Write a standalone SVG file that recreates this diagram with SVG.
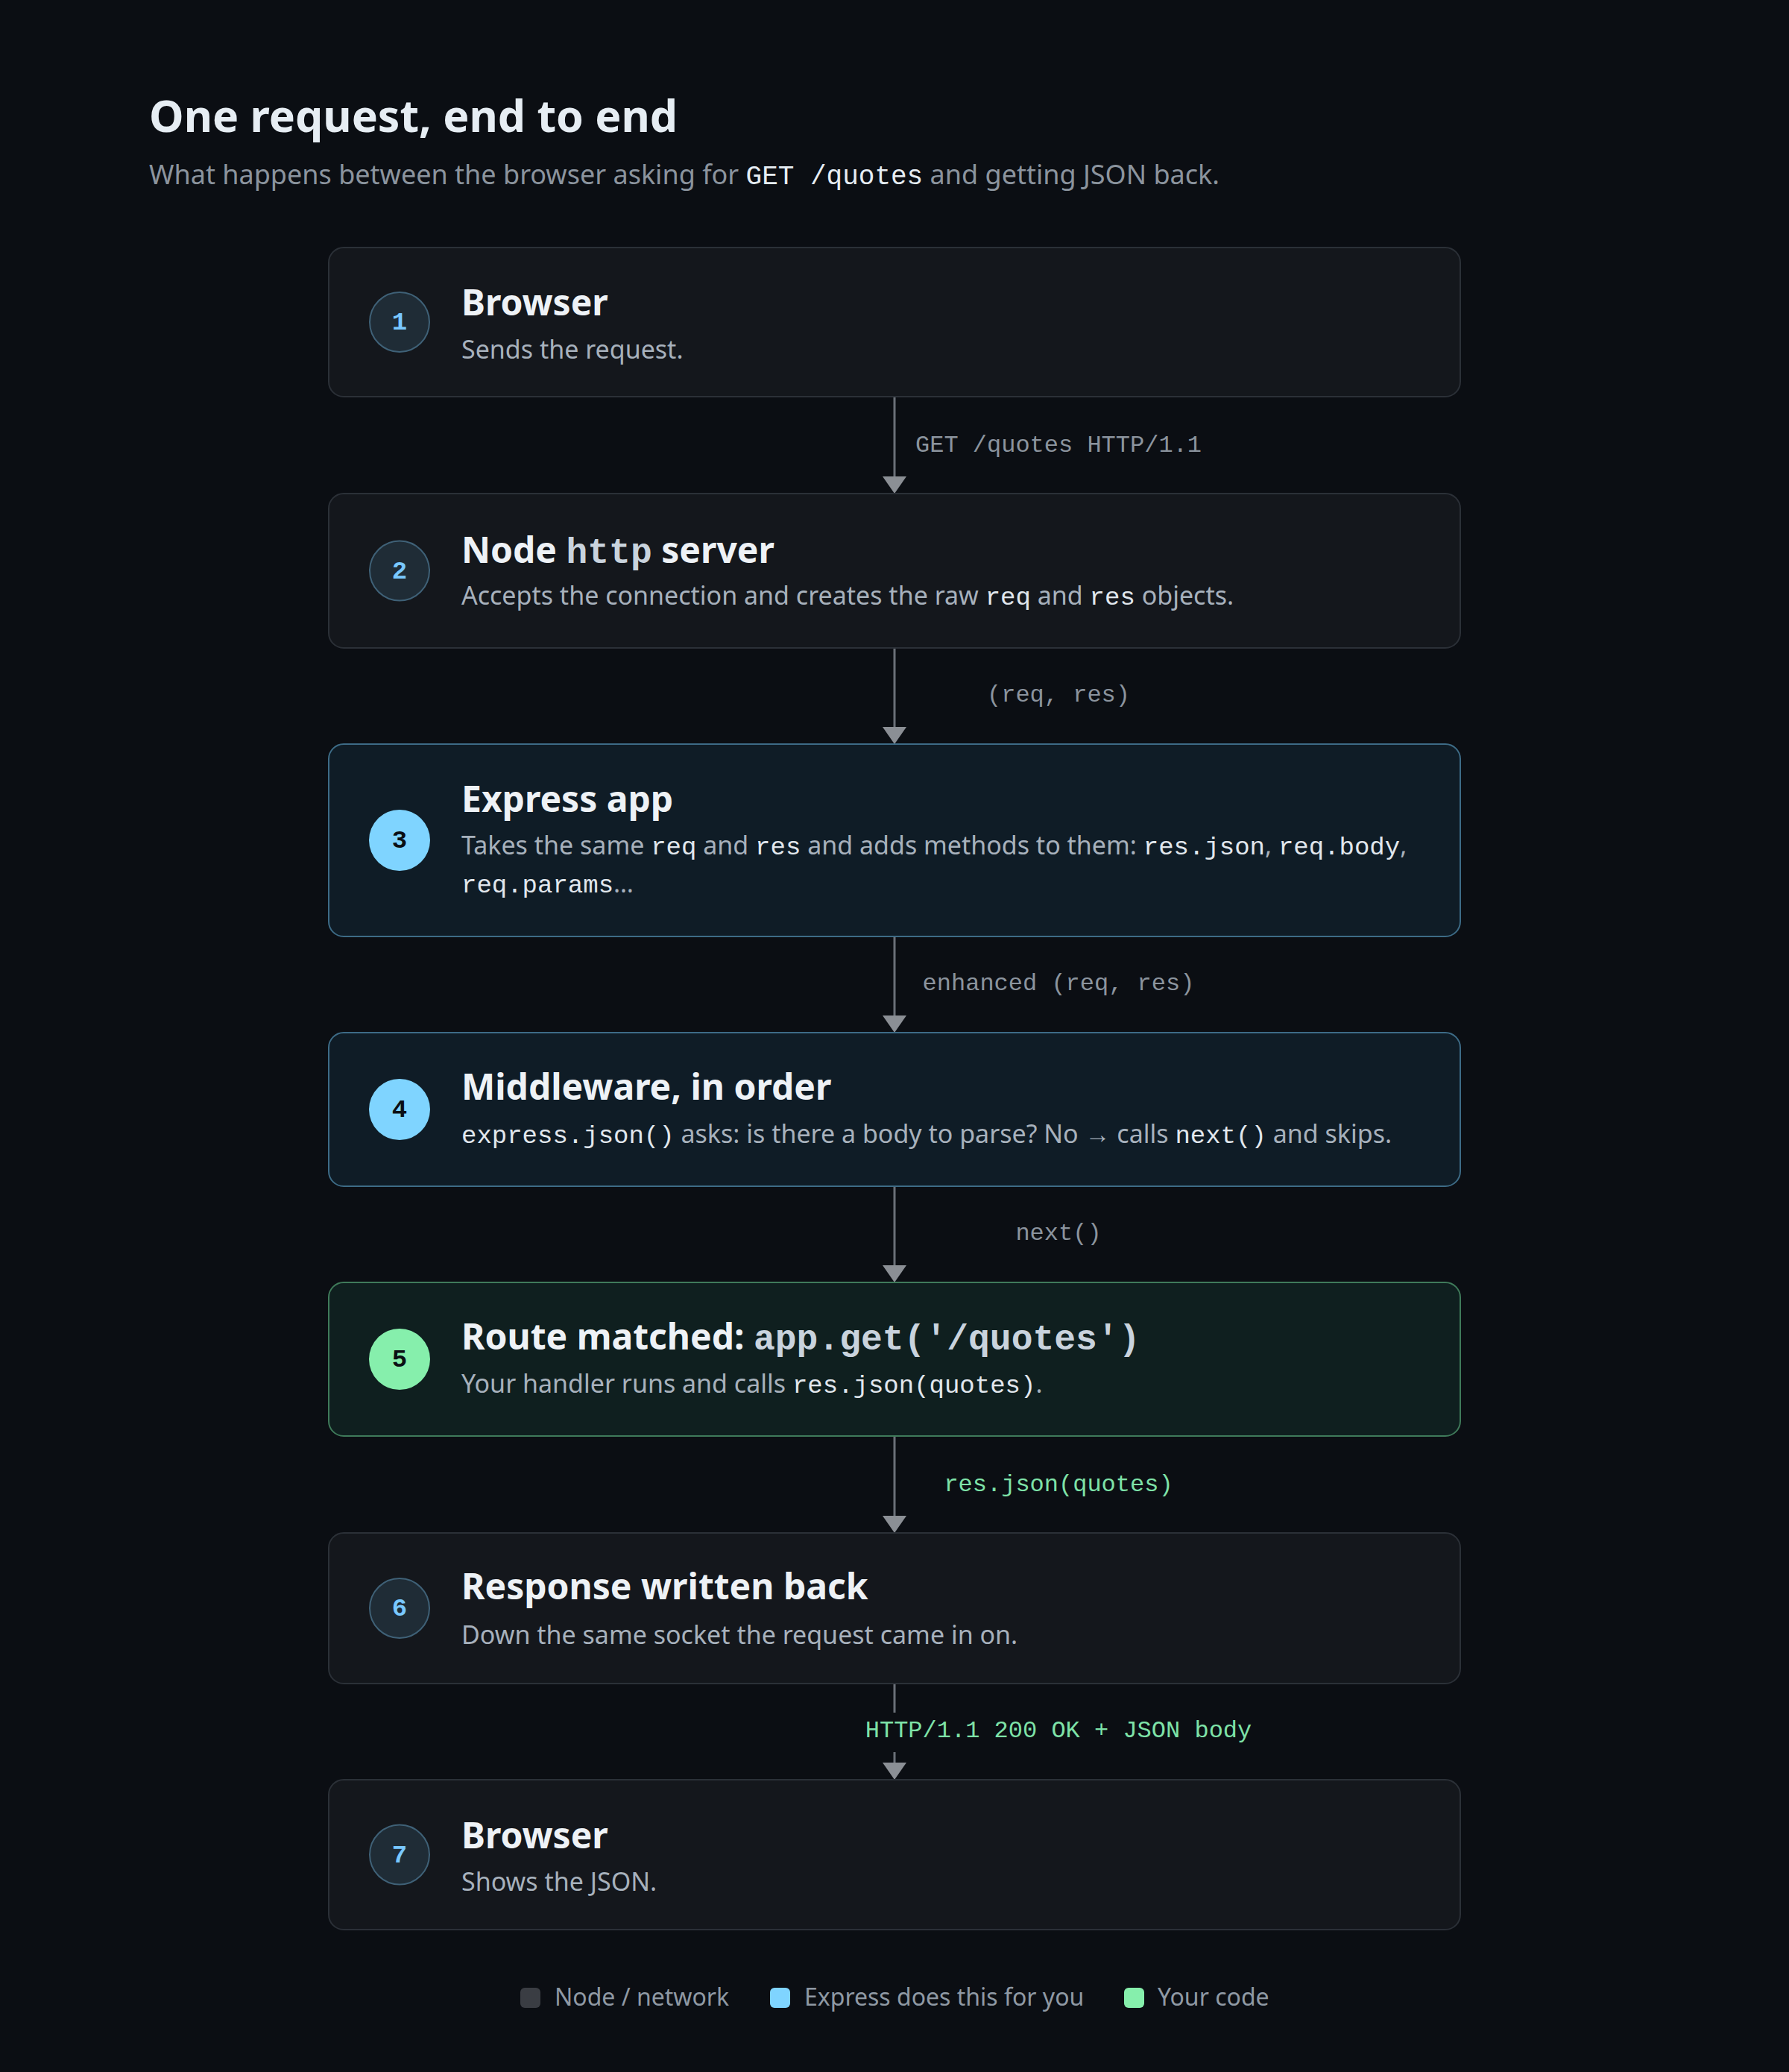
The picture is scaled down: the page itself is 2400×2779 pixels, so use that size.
<svg xmlns="http://www.w3.org/2000/svg" width="2400" height="2779" viewBox="0 0 2400 2779">
<defs>
<style>
.h1{font-family:"Noto Sans","Open Sans",sans-serif;font-weight:700;font-size:59px;fill:#e6edf3}
.sub{font-family:"Noto Sans","Open Sans",sans-serif;font-size:36px;fill:#8b949e}
.sub .code{font-family:"Liberation Mono","DejaVu Sans Mono",monospace;font-size:36px;fill:#e6edf3}
.box-gray{fill:#14171c;stroke:#2b3037;stroke-width:2}
.box-blue{fill:#0f1c26;stroke:#3d6b86;stroke-width:2}
.box-green{fill:#0f1f1f;stroke:#3f7a5a;stroke-width:2}
.num-bg-gray{fill:#1f2c36;stroke:#3f6177;stroke-width:2}
.num-bg-blue{fill:#7fd4ff}
.num-bg-green{fill:#86efac}
.num{font-family:"Liberation Mono","DejaVu Sans Mono",monospace;font-weight:700;font-size:34px;text-anchor:middle}
.num-light{fill:#79c8ff}
.num-dark{fill:#0b0f14}
.title{font-family:"Noto Sans","Open Sans",sans-serif;font-weight:700;font-size:48px;fill:#eef2f6}
.title .code{font-family:"Liberation Mono","DejaVu Sans Mono",monospace;font-weight:700;font-size:48px;fill:#c9d3dd}
.desc{font-family:"Noto Sans","Open Sans",sans-serif;font-size:34px;fill:#a7b1bc}
.desc .code{font-family:"Liberation Mono","DejaVu Sans Mono",monospace;font-size:34px;fill:#e1e7ed}
.conn{stroke:#6b7078;stroke-width:3;fill:none}
.lbl{font-family:"Liberation Mono","DejaVu Sans Mono",monospace;font-size:32px;text-anchor:middle}
.lbl-gray{fill:#8b949e}
.lbl-green{fill:#7ee2a8}
.legend{font-family:"Noto Sans","Open Sans",sans-serif;font-size:32px;fill:#8f99a4}
</style>
<marker id="arrow" markerUnits="userSpaceOnUse" markerWidth="23" markerHeight="32" viewBox="0 0 23 32" refX="13" refY="16" orient="auto">
<path d="M0,0 L23,16 L0,32 Z" fill="#8b8f95"/>
</marker>
</defs>

<rect x="0" y="0" width="2400" height="2779" fill="#0b0e13"/>

<g id="header">
<text class="h1" x="200" y="177">One request, end to end</text>
<text class="sub" x="200" y="247">What happens between the browser asking for <tspan class="code">GET /quotes</tspan> and getting JSON back.</text>
</g>

<g id="connectors">
<line class="conn" x1="1200" y1="533" x2="1200" y2="652" marker-end="url(#arrow)"/>
<line class="conn" x1="1200" y1="869" x2="1200" y2="988" marker-end="url(#arrow)"/>
<line class="conn" x1="1200" y1="1256" x2="1200" y2="1375" marker-end="url(#arrow)"/>
<line class="conn" x1="1200" y1="1591" x2="1200" y2="1710" marker-end="url(#arrow)"/>
<line class="conn" x1="1200" y1="1926" x2="1200" y2="2046" marker-end="url(#arrow)"/>
<line class="conn" x1="1200" y1="2258" x2="1200" y2="2377" marker-end="url(#arrow)"/>
<text class="lbl lbl-gray" x="1420" y="606">GET /quotes HTTP/1.1</text>
<text class="lbl lbl-gray" x="1420" y="941">(req, res)</text>
<text class="lbl lbl-gray" x="1420" y="1328">enhanced (req, res)</text>
<text class="lbl lbl-gray" x="1420" y="1663">next()</text>
<text class="lbl lbl-green" x="1420" y="2000">res.json(quotes)</text>
<rect x="1152" y="2297" width="536" height="53" fill="#0b0e13"/>
<text class="lbl lbl-green" x="1420" y="2330">HTTP/1.1 200 OK + JSON body</text>
</g>

<g id="node-1">
<rect class="box-gray" x="441" y="332" width="1518" height="200" rx="20"/>
<circle class="num-bg-gray" cx="536" cy="432" r="40"/>
<text class="num num-light" x="536" y="442">1</text>
<text class="title" x="619" y="423">Browser</text>
<text class="desc" x="619" y="481">Sends the request.</text>
</g>

<g id="node-2">
<rect class="box-gray" x="441" y="662" width="1518" height="207" rx="20"/>
<circle class="num-bg-gray" cx="536" cy="765.5" r="40"/>
<text class="num num-light" x="536" y="775.5">2</text>
<text class="title" x="619" y="755">Node <tspan class="code">http</tspan> server</text>
<text class="desc" x="619" y="811">Accepts the connection and creates the raw <tspan class="code">req</tspan> and <tspan class="code">res</tspan> objects.</text>
</g>

<g id="node-3">
<rect class="box-blue" x="441" y="998" width="1518" height="258" rx="20"/>
<circle class="num-bg-blue" cx="536" cy="1127" r="41"/>
<text class="num num-dark" x="536" y="1137">3</text>
<text class="title" x="619" y="1089">Express app</text>
<text class="desc" x="619" y="1146">Takes the same <tspan class="code">req</tspan> and <tspan class="code">res</tspan> and adds methods to them: <tspan class="code">res.json</tspan>, <tspan class="code">req.body</tspan>,</text>
<text class="desc" x="619" y="1197"><tspan class="code">req.params</tspan>…</text>
</g>

<g id="node-4">
<rect class="box-blue" x="441" y="1385" width="1518" height="206" rx="20"/>
<circle class="num-bg-blue" cx="536" cy="1488" r="41"/>
<text class="num num-dark" x="536" y="1498">4</text>
<text class="title" x="619" y="1475">Middleware, in order</text>
<text class="desc" x="619" y="1533"><tspan class="code">express.json()</tspan> asks: is there a body to parse? No → calls <tspan class="code">next()</tspan> and skips.</text>
</g>

<g id="node-5">
<rect class="box-green" x="441" y="1720" width="1518" height="206" rx="20"/>
<circle class="num-bg-green" cx="536" cy="1823" r="41"/>
<text class="num num-dark" x="536" y="1833">5</text>
<text class="title" x="619" y="1810">Route matched: <tspan class="code">app.get('/quotes')</tspan></text>
<text class="desc" x="619" y="1868">Your handler runs and calls <tspan class="code">res.json(quotes)</tspan>.</text>
</g>

<g id="node-6">
<rect class="box-gray" x="441" y="2056" width="1518" height="202" rx="20"/>
<circle class="num-bg-gray" cx="536" cy="2157" r="40"/>
<text class="num num-light" x="536" y="2167">6</text>
<text class="title" x="619" y="2145">Response written back</text>
<text class="desc" x="619" y="2205">Down the same socket the request came in on.</text>
</g>

<g id="node-7">
<rect class="box-gray" x="441" y="2387" width="1518" height="201" rx="20"/>
<circle class="num-bg-gray" cx="536" cy="2487.5" r="40"/>
<text class="num num-light" x="536" y="2497.5">7</text>
<text class="title" x="619" y="2479">Browser</text>
<text class="desc" x="619" y="2536">Shows the JSON.</text>
</g>

<g id="legend">
<rect x="698" y="2666" width="27" height="27" rx="6" fill="#3a3d43"/>
<text class="legend" x="744" y="2690">Node / network</text>
<rect x="1033" y="2666" width="27" height="27" rx="6" fill="#7fd4ff"/>
<text class="legend" x="1079" y="2690">Express does this for you</text>
<rect x="1508" y="2666" width="27" height="27" rx="6" fill="#86efac"/>
<text class="legend" x="1553" y="2690">Your code</text>
</g>
</svg>
